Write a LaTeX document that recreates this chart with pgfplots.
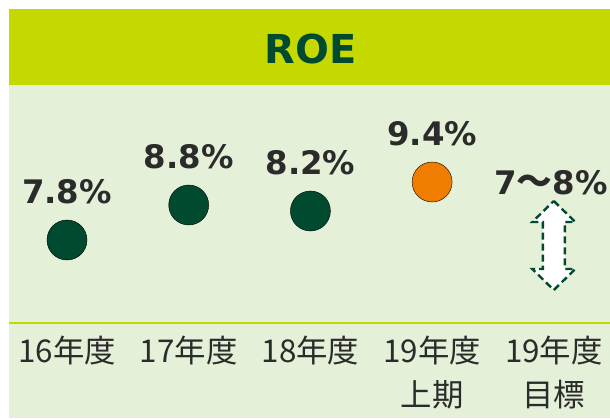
\documentclass[border=0pt]{standalone}
\usepackage{pgfplots}
\pgfplotsset{compat=1.18}
\usepackage{fontspec}
\setmainfont{DejaVu Sans}
\newfontfamily\cjk{Noto Sans CJK JP}
\definecolor{titlebar}{RGB}{197,217,0}
\definecolor{panel}{RGB}{228,240,216}
\definecolor{dkgreen}{RGB}{0,75,48}
\definecolor{orng}{RGB}{240,125,0}
\definecolor{txt}{RGB}{43,43,43}
\begin{document}
\begin{tikzpicture}
\begin{axis}[
  scale only axis, width=601bp, height=314bp,
  xmin=-0.4766, xmax=4.4618, ymin=0, ymax=314,
  clip=false, axis on top,
  axis x line=bottom, axis y line=none,
  x axis line style={draw=titlebar, line width=2.2bp, -},
  xtick={0,1,2,3,4}, major tick length=0pt, ytick=\empty,
  xticklabels={16年度,17年度,18年度,{19年度\\上期},{19年度\\目標}},
  xticklabel style={font=\cjk\fontsize{31.5}{45}\selectfont, text=txt, align=center, anchor=north, yshift=-9bp},
]
\fill[panel] (axis cs:-0.4766,-95) rectangle (axis cs:4.4618,314);
\fill[titlebar] (axis cs:-0.4766,238) rectangle (axis cs:4.4618,314);
\coordinate (BL) at (axis cs:-0.5505,-95);
\coordinate (TR) at (axis cs:4.4618,323);
\node[font=\bfseries\fontsize{40}{48}\selectfont, text=dkgreen] at (axis cs:2.0,274) {ROE};

\addplot[only marks, mark=*, mark size=20bp, mark options={draw=none, fill=dkgreen},
  nodes near coords, point meta=explicit symbolic,
  every node near coord/.append style={font=\bfseries\fontsize{32.5}{38}\selectfont, text=txt, anchor=center, yshift=48bp}]
  coordinates {(0,83)[7.8\%] (1,118)[8.8\%] (2,112)[8.2\%]};
\addplot[only marks, mark=*, mark size=20bp, mark options={draw=none, fill=orng},
  nodes near coords, point meta=explicit symbolic,
  every node near coord/.append style={font=\bfseries\fontsize{32.5}{38}\selectfont, text=txt, anchor=center, yshift=48bp}]
  coordinates {(3,141)[9.4\%]};

% target range arrow (7-8%)
\addplot[draw=dkgreen, fill=white, line width=2.4bp, dash pattern=on 7bp off 4bp, line join=miter]
  coordinates {(4,122) (4.1767,101) (4.0904,101) (4.0904,54) (4.1767,54) (4,33)
               (3.8233,54) (3.9096,54) (3.9096,101) (3.8233,101)} -- cycle;
\node[anchor=west, inner sep=0pt, font=\bfseries\fontsize{32.5}{38}\selectfont, text=txt]
  at (axis cs:3.510,140) {7{\cjk\bfseries\fontsize{36}{38}\selectfont ～}8\%};
\end{axis}
\pgfresetboundingbox
\path[use as bounding box] (BL) rectangle (TR);
\end{tikzpicture}
\end{document}
